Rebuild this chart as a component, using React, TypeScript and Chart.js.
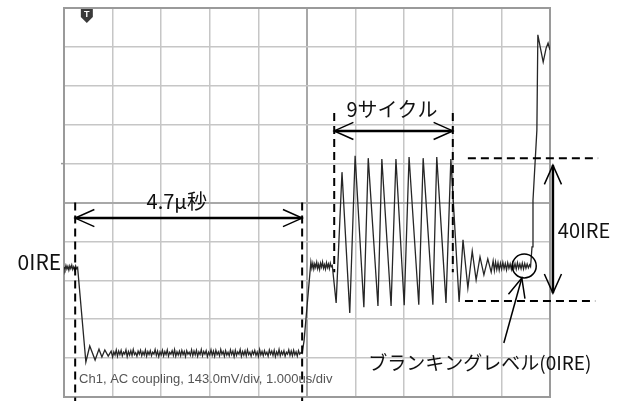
import React, { useEffect, useRef } from "react";
import { Chart, registerables } from "chart.js";

Chart.register(...registerables);

// Axis units: x = time in µs (1 µs/div, 10 div), y = vertical divisions (10 div)
const X_MIN = 0;
const X_MAX = 10;
const Y_MIN = 0;
const Y_MAX = 10;

// Trace segments [time µs, divisions]
const frontBlank: [number, number][] = [[0, 3.34], [0.02, 3.27], [0.04, 3.38], [0.06, 3.29], [0.08, 3.36], [0.10, 3.26], [0.12, 3.37], [0.14, 3.30], [0.16, 3.39], [0.18, 3.28], [0.20, 3.35], [0.22, 3.27], [0.24, 3.37], [0.26, 3.30], [0.28, 3.33]];
const syncFall: [number, number][] = [[0.45, 0.90], [0.53, 1.31], [0.64, 0.95], [0.72, 1.23], [0.78, 1.03], [0.84, 1.21], [0.91, 1.05], [0.97, 1.18]];
const syncTip: [number, number][] = [
  [1.000, 1.03], [1.025, 1.16], [1.050, 1.08], [1.075, 1.21], [1.100, 1.05], [1.125, 1.18], [1.150, 1.09], [1.175, 1.20], [1.200, 1.06], [1.225, 1.15],
  [1.250, 1.10], [1.275, 1.21], [1.300, 1.04], [1.325, 1.17], [1.350, 1.08], [1.375, 1.19], [1.400, 1.07], [1.425, 1.22], [1.450, 1.09], [1.475, 1.14],
  [1.500, 1.05], [1.525, 1.18], [1.550, 1.10], [1.575, 1.20], [1.600, 1.06], [1.625, 1.16], [1.650, 1.08], [1.675, 1.21], [1.700, 1.05], [1.725, 1.17],
  [1.750, 1.09], [1.775, 1.19], [1.800, 1.06], [1.825, 1.15], [1.850, 1.10], [1.875, 1.22], [1.900, 1.07], [1.925, 1.18], [1.950, 1.04], [1.975, 1.16],
  [2.000, 1.08], [2.025, 1.20], [2.050, 1.06], [2.075, 1.17], [2.100, 1.09], [2.125, 1.21], [2.150, 1.05], [2.175, 1.15], [2.200, 1.10], [2.225, 1.19],
  [2.250, 1.07], [2.275, 1.22], [2.300, 1.05], [2.325, 1.16], [2.350, 1.08], [2.375, 1.18], [2.400, 1.06], [2.425, 1.20], [2.450, 1.09], [2.475, 1.17],
  [2.500, 1.04], [2.525, 1.19], [2.550, 1.10], [2.575, 1.15], [2.600, 1.07], [2.625, 1.21], [2.650, 1.06], [2.675, 1.18], [2.700, 1.08], [2.725, 1.20],
  [2.750, 1.05], [2.775, 1.16], [2.800, 1.09], [2.825, 1.22], [2.850, 1.06], [2.875, 1.17], [2.900, 1.10], [2.925, 1.19], [2.950, 1.04], [2.975, 1.15],
  [3.000, 1.08], [3.025, 1.21], [3.050, 1.07], [3.075, 1.18], [3.100, 1.05], [3.125, 1.20], [3.150, 1.09], [3.175, 1.16], [3.200, 1.06], [3.225, 1.22],
  [3.250, 1.10], [3.275, 1.17], [3.300, 1.05], [3.325, 1.19], [3.350, 1.08], [3.375, 1.15], [3.400, 1.06], [3.425, 1.21], [3.450, 1.09], [3.475, 1.18],
  [3.500, 1.04], [3.525, 1.20], [3.550, 1.07], [3.575, 1.16], [3.600, 1.10], [3.625, 1.22], [3.650, 1.05], [3.675, 1.17], [3.700, 1.08], [3.725, 1.19],
  [3.750, 1.06], [3.775, 1.21], [3.800, 1.09], [3.825, 1.15], [3.850, 1.05], [3.875, 1.18], [3.900, 1.10], [3.925, 1.20], [3.950, 1.07], [3.975, 1.16],
  [4.000, 1.04], [4.025, 1.22], [4.050, 1.08], [4.075, 1.17], [4.100, 1.06], [4.125, 1.19], [4.150, 1.09], [4.175, 1.15], [4.200, 1.05], [4.225, 1.21],
  [4.250, 1.10], [4.275, 1.18], [4.300, 1.07], [4.325, 1.20], [4.350, 1.04], [4.375, 1.16], [4.400, 1.08], [4.425, 1.22], [4.450, 1.06], [4.475, 1.17],
  [4.500, 1.09], [4.525, 1.19], [4.550, 1.05], [4.575, 1.15], [4.600, 1.10], [4.625, 1.21], [4.650, 1.07], [4.675, 1.18], [4.700, 1.06], [4.725, 1.20],
  [4.750, 1.08], [4.775, 1.16], [4.800, 1.05], [4.825, 1.19], [4.850, 1.10], [4.875, 1.14], [4.900, 1.12],
];
const syncRise: [number, number][] = [[4.94, 1.45], [5.08, 3.47]];
const backPorch: [number, number][] = [[5.10, 3.31], [5.12, 3.44], [5.14, 3.29], [5.16, 3.42], [5.18, 3.33], [5.20, 3.46], [5.22, 3.30], [5.24, 3.41], [5.26, 3.28], [5.28, 3.44], [5.30, 3.34], [5.32, 3.47], [5.34, 3.31], [5.36, 3.40], [5.38, 3.29], [5.40, 3.45], [5.42, 3.33], [5.44, 3.42], [5.46, 3.30], [5.48, 3.44], [5.50, 3.35], [5.52, 3.38]];
const burst: [number, number][] = [[5.60, 2.42], [5.72, 5.78], [5.88, 2.16], [5.99, 6.20], [6.17, 2.31], [6.26, 6.14], [6.46, 2.34], [6.54, 6.12], [6.73, 2.34], [6.83, 6.12], [7.00, 2.36], [7.10, 6.17], [7.30, 2.37], [7.39, 6.14], [7.59, 2.37], [7.67, 6.17], [7.86, 2.42], [7.96, 6.12], [8.13, 2.44]];
const burstTail: [number, number][] = [[8.21, 4.04], [8.31, 2.80], [8.40, 3.75], [8.48, 3.01], [8.56, 3.60], [8.64, 3.14], [8.72, 3.55], [8.79, 3.21]];
const rearBlank: [number, number][] = [[8.83, 3.50], [8.855, 3.25], [8.88, 3.47], [8.905, 3.28], [8.93, 3.45], [8.955, 3.26], [8.98, 3.44], [9.005, 3.29], [9.03, 3.46], [9.055, 3.30], [9.08, 3.43], [9.105, 3.27], [9.13, 3.45], [9.155, 3.31], [9.18, 3.42], [9.205, 3.28], [9.23, 3.44], [9.255, 3.30], [9.28, 3.43], [9.305, 3.29], [9.33, 3.45], [9.355, 3.31], [9.38, 3.42], [9.405, 3.30], [9.43, 3.44], [9.455, 3.29], [9.48, 3.43], [9.505, 3.31], [9.53, 3.42], [9.555, 3.32], [9.58, 3.40], [9.60, 3.35]];
const videoRise: [number, number][] = [[9.63, 3.86], [9.65, 5.06], [9.73, 6.86], [9.75, 9.31], [9.79, 9.05], [9.86, 8.61], [9.92, 8.97], [9.96, 9.10], [10.0, 8.92]];

const traceSegments = [frontBlank, syncFall, syncTip, syncRise, backPorch, burst, burstTail, rearBlank, videoRise];

// Annotation anchors (same units)
const syncMarkX = [0.23, 4.90];
const syncMarkTop = 5.0;
const markBottom = -0.1;
const syncArrowY = 4.6;
const syncLabel = "4.7μ秒";
const syncLabelPos = [2.32, 5.04];

const burstMarkX = [5.56, 8.0];
const burstMarkTop = 7.3;
const burstMarkBottom = 3.21;
const burstArrowY = 6.84;
const burstLabel = "9サイクル";
const burstLabelPos = [6.75, 7.40];

const levelLineTop = { y: 6.14, x0: 8.31, x1: 10.99 };
const levelLineBottom = { y: 2.47, x0: 8.25, x1: 10.93 };
const ireArrowX = 10.06;
const ireArrowY = [5.96, 2.67];
const ireLabel = "40IRE";
const ireLabelPos = [10.16, 4.27];

const circlePos = [9.47, 3.37];
const leaderTip = [9.42, 3.06];
const leaderTail = [9.05, 1.39];
const blankLabel = "ブランキングレベル(0IRE)";
const blankLabelPos = [6.26, 0.87];

const zeroLabel = "0IRE";
const zeroLabelPos = [-0.06, 3.47];

const infoLabel = "Ch1, AC coupling, 143.0mV/div, 1.000us/div";
const infoLabelPos = [0.31, 0.44];

const triggerPos = [0.47, 10.0];
const groundMarkY = 6.0;

function chevron(ctx: CanvasRenderingContext2D, tx: number, ty: number, fx: number, fy: number) {
  const ang = Math.atan2(ty - fy, tx - fx);
  const len = 21;
  const spread = 0.42;
  ctx.beginPath();
  ctx.moveTo(tx - len * Math.cos(ang - spread), ty - len * Math.sin(ang - spread));
  ctx.lineTo(tx, ty);
  ctx.lineTo(tx - len * Math.cos(ang + spread), ty - len * Math.sin(ang + spread));
  ctx.stroke();
}

const frameOutlinePlugin = {
  id: "frameOutline",
  beforeDatasetsDraw(chart: any) {
    const { ctx, chartArea: a } = chart;
    ctx.save();
    ctx.strokeStyle = "#9a9a9a";
    ctx.lineWidth = 2;
    ctx.strokeRect(a.left, a.top, a.right - a.left, a.bottom - a.top);
    ctx.restore();
  },
};

const annotationPlugin = {
  id: "scopeAnnotations",
  afterDraw(chart: any) {
    const { ctx } = chart;
    const xs = chart.scales.x;
    const ys = chart.scales.y;
    const X = (v: number) => xs.getPixelForValue(v);
    const Y = (v: number) => ys.getPixelForValue(v);
    ctx.save();

    ctx.strokeStyle = "#999";
    ctx.lineWidth = 1.5;
    ctx.beginPath();
    ctx.moveTo(X(0) - 3, Y(groundMarkY));
    ctx.lineTo(X(0), Y(groundMarkY));
    ctx.stroke();

    const tx = X(triggerPos[0]);
    const ty = Y(triggerPos[1]);
    ctx.fillStyle = "#3a3a3a";
    ctx.beginPath();
    ctx.moveTo(tx - 6, ty + 1);
    ctx.lineTo(tx + 6, ty + 1);
    ctx.lineTo(tx + 6, ty + 9);
    ctx.lineTo(tx, ty + 15);
    ctx.lineTo(tx - 6, ty + 9);
    ctx.closePath();
    ctx.fill();
    ctx.fillStyle = "#fff";
    ctx.font = "bold 9px 'Liberation Sans'";
    ctx.textAlign = "center";
    ctx.textBaseline = "middle";
    ctx.fillText("T", tx, ty + 6.5);

    ctx.fillStyle = "#555";
    ctx.font = "13px 'Liberation Sans'";
    ctx.textAlign = "left";
    ctx.fillText(infoLabel, X(infoLabelPos[0]), Y(infoLabelPos[1]));

    ctx.strokeStyle = "#000";
    ctx.lineWidth = 2;
    ctx.setLineDash([8, 5]);
    const vline = (x: number, y0: number, y1: number) => {
      ctx.beginPath();
      ctx.moveTo(X(x), Y(y0));
      ctx.lineTo(X(x), Y(y1));
      ctx.stroke();
    };
    syncMarkX.forEach((x) => vline(x, syncMarkTop, markBottom));
    burstMarkX.forEach((x) => vline(x, burstMarkTop, burstMarkBottom));
    [levelLineTop, levelLineBottom].forEach((l) => {
      ctx.beginPath();
      ctx.moveTo(X(l.x0), Y(l.y));
      ctx.lineTo(X(l.x1), Y(l.y));
      ctx.stroke();
    });
    ctx.setLineDash([]);

    const harrow = (x0: number, x1: number, y: number) => {
      const a = X(x0), b = X(x1), yy = Y(y);
      ctx.beginPath();
      ctx.moveTo(a, yy);
      ctx.lineTo(b, yy);
      ctx.stroke();
      ctx.lineWidth = 1.5;
      chevron(ctx, a, yy, b, yy);
      chevron(ctx, b, yy, a, yy);
      ctx.lineWidth = 2.5;
    };
    ctx.lineWidth = 2.5;
    harrow(syncMarkX[0], syncMarkX[1], syncArrowY);
    harrow(burstMarkX[0], burstMarkX[1], burstArrowY);
    {
      const x = X(ireArrowX), a = Y(ireArrowY[0]), b = Y(ireArrowY[1]);
      ctx.beginPath();
      ctx.moveTo(x, a);
      ctx.lineTo(x, b);
      ctx.stroke();
      ctx.lineWidth = 1.5;
      chevron(ctx, x, a, x, b);
      chevron(ctx, x, b, x, a);
    }

    ctx.lineWidth = 1.5;
    ctx.beginPath();
    ctx.arc(X(circlePos[0]), Y(circlePos[1]), 12, 0, Math.PI * 2);
    ctx.stroke();
    {
      const ax = X(leaderTip[0]), ay = Y(leaderTip[1]);
      const bx = X(leaderTail[0]), by = Y(leaderTail[1]);
      ctx.beginPath();
      ctx.moveTo(ax, ay);
      ctx.lineTo(bx, by);
      ctx.stroke();
      chevron(ctx, ax, ay, bx, by);
    }

    ctx.fillStyle = "#111";
    ctx.textBaseline = "middle";
    ctx.font = "20px 'Noto Sans CJK JP'";
    ctx.textAlign = "center";
    ctx.fillText(syncLabel, X(syncLabelPos[0]), Y(syncLabelPos[1]));
    ctx.fillText(burstLabel, X(burstLabelPos[0]), Y(burstLabelPos[1]));
    ctx.textAlign = "left";
    ctx.fillText(ireLabel, X(ireLabelPos[0]), Y(ireLabelPos[1]));
    ctx.font = "19px 'Noto Sans CJK JP'";
    ctx.fillText(blankLabel, X(blankLabelPos[0]), Y(blankLabelPos[1]));
    ctx.font = "21px 'Noto Sans CJK JP'";
    ctx.textAlign = "right";
    ctx.fillText(zeroLabel, X(zeroLabelPos[0]), Y(zeroLabelPos[1]));

    ctx.restore();
  },
};

export default function App() {
  const ref = useRef<HTMLCanvasElement>(null);
  useEffect(() => {
    if (!ref.current) return;
    const points = traceSegments.flat().map(([x, y]) => ({ x, y }));
    const gridColor = (c: any) => (c.tick && c.tick.value === 5 ? "#a8a8a8" : "#c6c6c6");
    const gridWidth = (c: any) => (c.tick && c.tick.value === 5 ? 2 : 1.5);
    const chart = new Chart(ref.current, {
      type: "line",
      data: {
        datasets: [
          {
            data: points,
            borderColor: "#262626",
            borderWidth: 1.3,
            pointRadius: 0,
            tension: 0,
            fill: false,
          },
        ],
      },
      options: {
        responsive: false,
        animation: false,
        events: [],
        layout: { padding: { left: 64, top: 8, right: 87, bottom: 4 } },
        plugins: { legend: { display: false }, tooltip: { enabled: false } },
        scales: {
          x: {
            type: "linear",
            min: X_MIN,
            max: X_MAX,
            ticks: { display: false, stepSize: 1 },
            grid: { drawTicks: false, color: gridColor, lineWidth: gridWidth },
            border: { display: true, color: "#9a9a9a", width: 2 },
          },
          y: {
            type: "linear",
            min: Y_MIN,
            max: Y_MAX,
            ticks: { display: false, stepSize: 1 },
            grid: { drawTicks: false, color: gridColor, lineWidth: gridWidth },
            border: { display: true, color: "#9a9a9a", width: 2 },
          },
        },
      },
      plugins: [frameOutlinePlugin, annotationPlugin],
    });
    return () => chart.destroy();
  }, []);
  return (
    <canvas
      ref={ref}
      width={637}
      height={401}
      style={{ position: "absolute", left: 0, top: 0, width: 637, height: 401, background: "#fff" }}
    />
  );
}
